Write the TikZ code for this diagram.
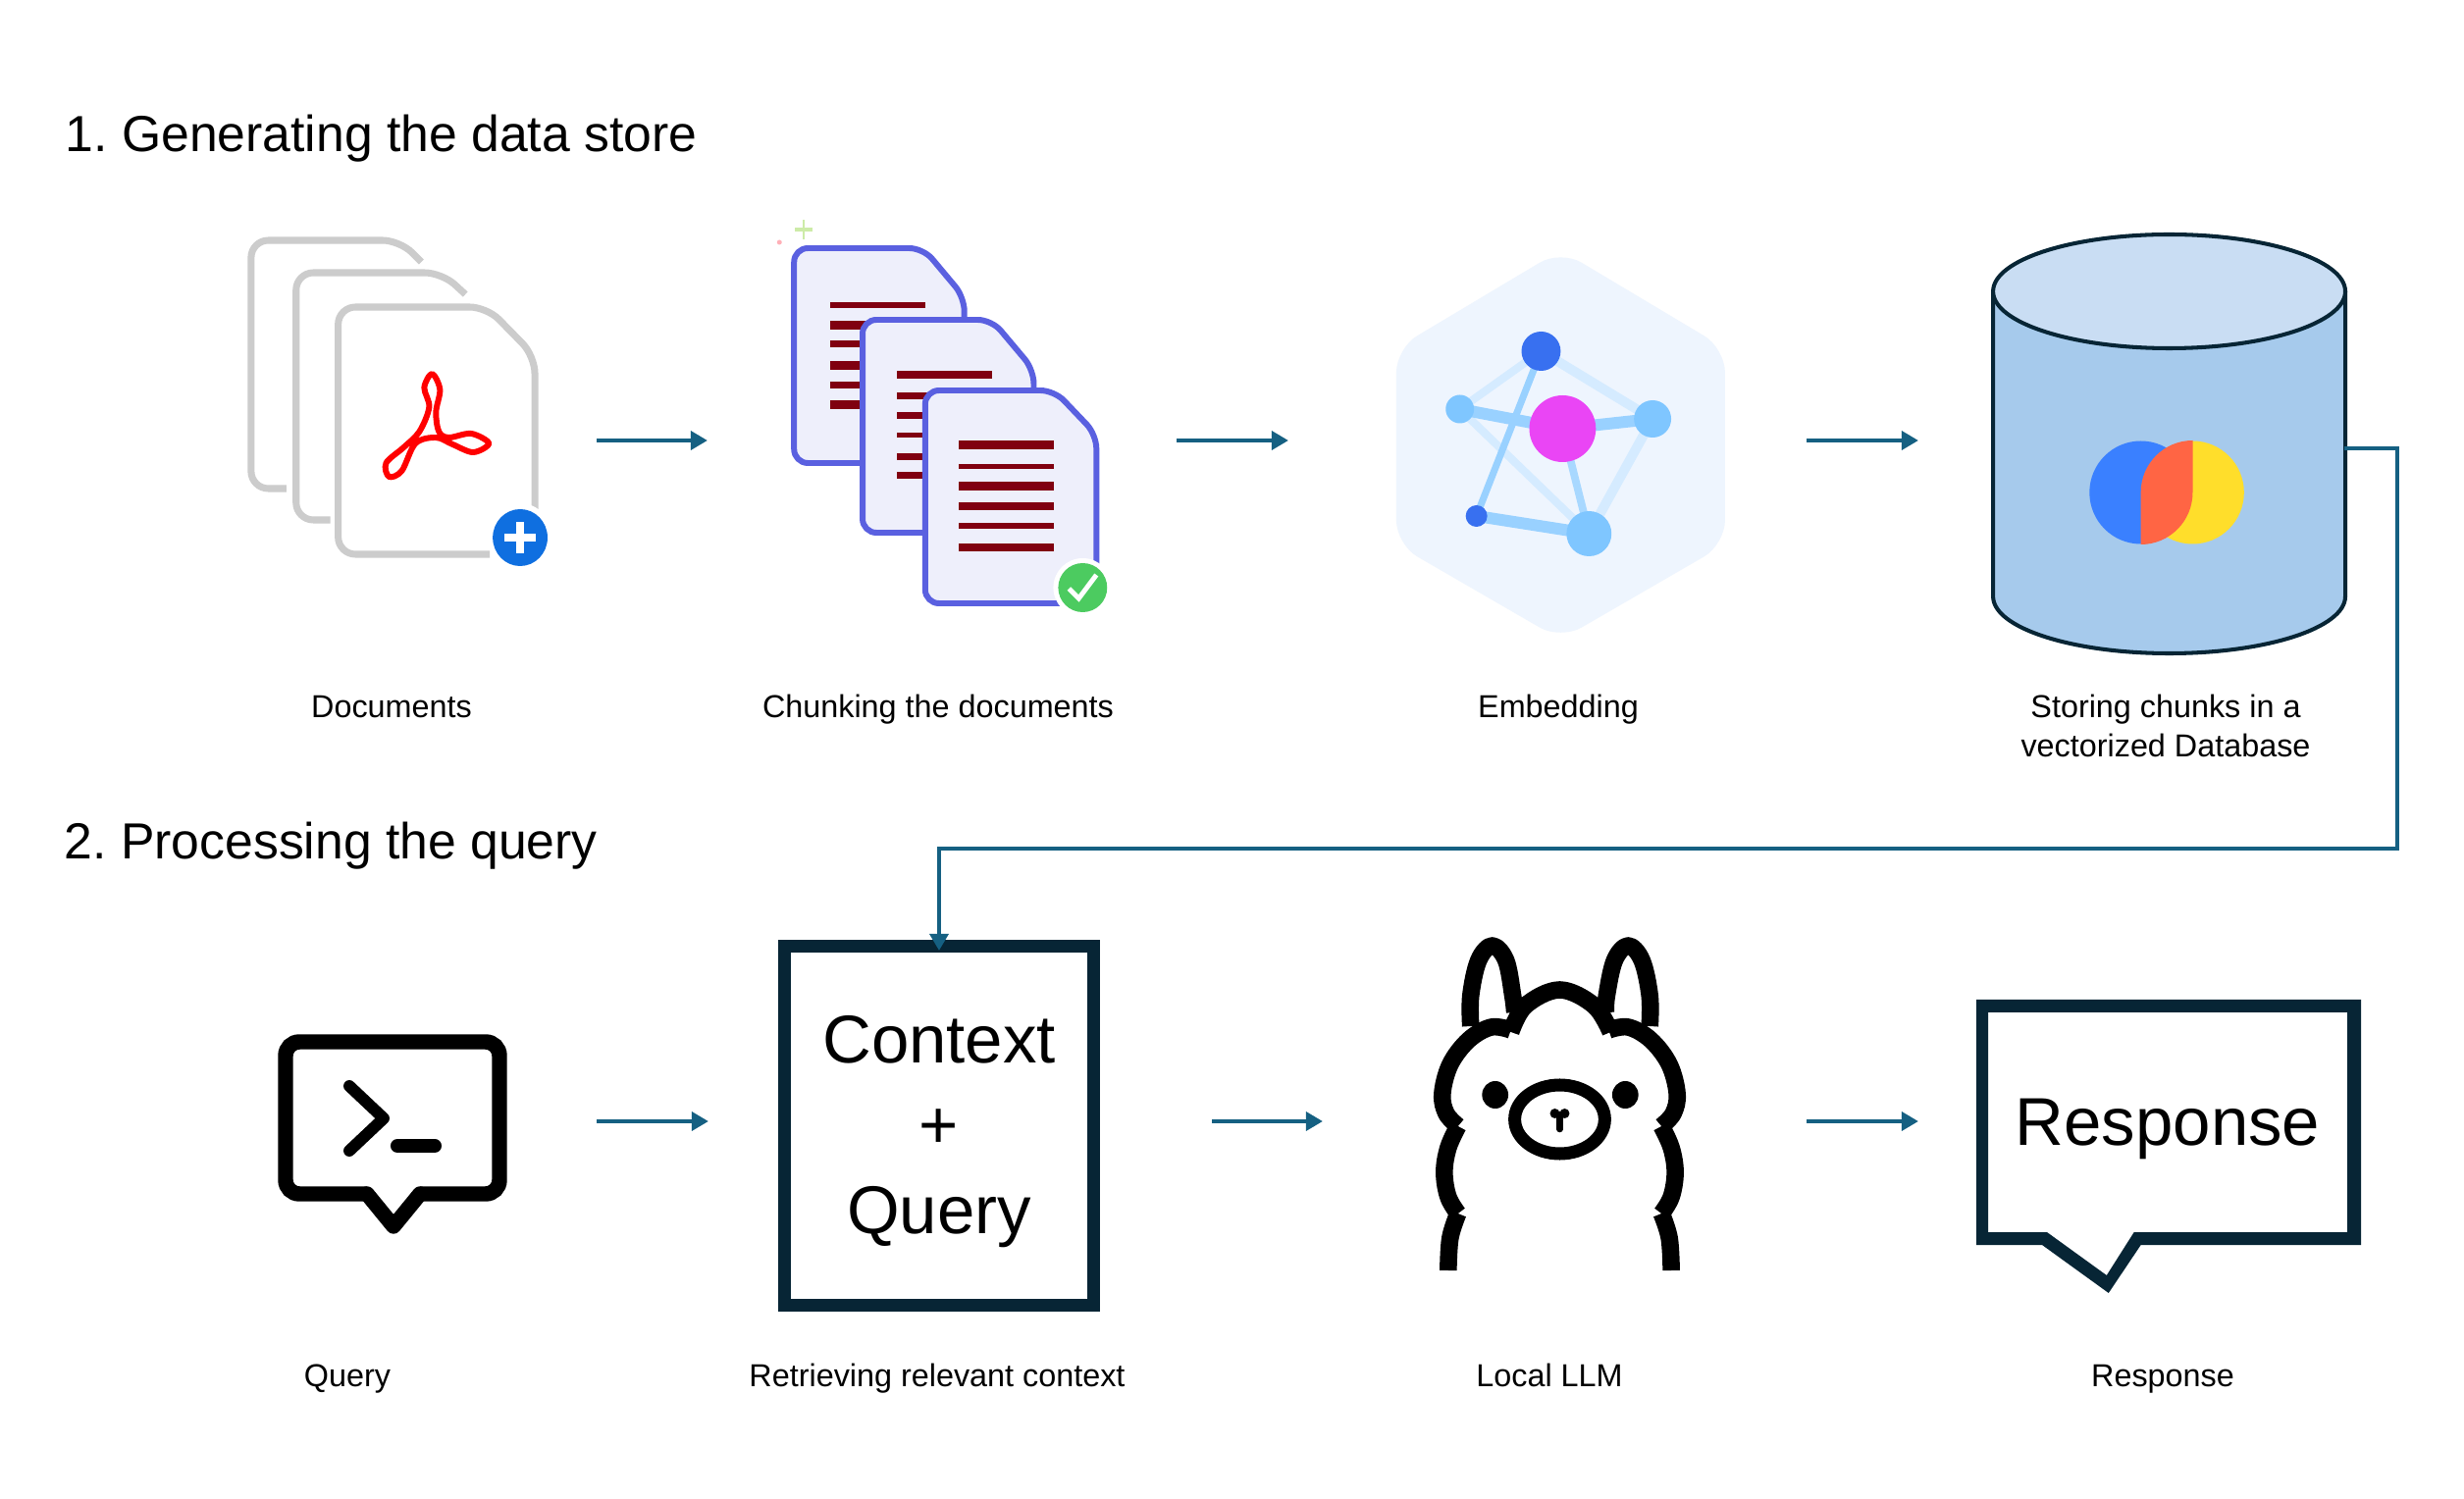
\documentclass[tikz,border=0pt]{standalone}
\usepackage{fontspec}
\setmainfont{Liberation Sans}
\frenchspacing
\usetikzlibrary{arrows.meta}
\definecolor{flowc}{HTML}{156082}
\definecolor{inkc}{HTML}{072535}
\definecolor{gpage}{HTML}{CCCCCC}
\definecolor{ppage}{HTML}{5A60E0}
\definecolor{pfill}{HTML}{EEEFFB}
\definecolor{rline}{HTML}{800010}
\definecolor{hexc}{HTML}{EEF5FE}
\definecolor{edgea}{HTML}{D5EBFF}
\definecolor{edgeb}{HTML}{99D1FF}
\definecolor{edgec}{HTML}{A8D8FF}
\definecolor{nlight}{HTML}{7FC6FF}
\definecolor{ndark}{HTML}{3870F0}
\definecolor{nmag}{HTML}{EA45F5}
\definecolor{dbbody}{HTML}{A6CAEC}
\definecolor{dbtop}{HTML}{C9DDF3}
\definecolor{plusc}{HTML}{0F6FE0}
\definecolor{okc}{HTML}{4CCB60}
\definecolor{logob}{HTML}{3A80FF}
\definecolor{logoy}{HTML}{FFDE2B}
\definecolor{logoo}{HTML}{FF6544}
\definecolor{sparkg}{HTML}{CDEBA8}
\definecolor{sparkp}{HTML}{FFB0B8}
\tikzset{
  flow/.style={draw=flowc,line width=1.4pt,-{Triangle[length=4.84pt,width=5.3pt,fill=flowc]}},
  gdoc/.style={draw=gpage,line width=2pt,rounded corners=5pt},
  pdoc/.style={draw=ppage,fill=pfill,line width=1.7pt,rounded corners=4pt},
  lbltxt/.style={font=\fontsize{9.2}{11.4}\selectfont,anchor=base,inner sep=0pt,text=black},
  headtxt/.style={font=\fontsize{14.7}{18}\selectfont,anchor=base west,inner sep=0pt,text=black},
  bigtxt/.style={font=\fontsize{19.6}{24.75}\selectfont,align=center,text=black},
  ela/.style={draw=edgea},
  elb/.style={draw=edgeb},
  llamaline/.style={draw=black,line width=5pt,line join=round},
  fitx/.style={shift={(#1,0)},xscale=0.997,shift={(-#1,0)}},
}
\begin{document}
\begin{tikzpicture}[x=0.01cm,y=-0.01cm]
\useasboundingbox (0,0) rectangle (2511,1528);
\fill[white] (0,0) rectangle (2511,1528);
% headings
\node[headtxt] (h1) at (66,155) {1. Generating the data store};
\node[headtxt] (h2) at (65,876) {2. Processing the query};
\begin{scope}[fitx=220]
% documents
\draw[gdoc] (292,498) -- (256,498) -- (256,245) -- (408,245) -- (430,267);
\draw[gdoc] (337,530) -- (302,530) -- (302,278) -- (451,278) -- (475,300);
\draw[gdoc,fill=white] (500,565) -- (345,565) -- (345,313) -- (497,313) -- (546,363) -- (546,520);
\draw[red,line width=1.7pt,line join=round]
  plot[smooth cycle,tension=0.55] coordinates {(441,381) (449,397) (445,420) (448,440) (458,446) (481,442) (499,452) (483,461) (462,453) (445,446) (424,452) (410,480) (397,486) (394,472) (412,456) (428,440) (438,415) (433,395)};
\fill[white] (531,548) ellipse [x radius=33,y radius=35];
\fill[plusc] (531,548) ellipse [x radius=28,y radius=29];
\fill[white] (527,532) rectangle (535,564);
\fill[white] (515,544) rectangle (547,552);
% chunks
\fill[sparkp] (796,247) circle (2.5);
\fill[sparkg] (820,224) rectangle (822,244);
\fill[sparkg] (812,232) rectangle (830,236);
\draw[pdoc] (811,472) -- (811,253) -- (943,253) -- (985,303) -- (985,472) -- cycle;
\foreach \y/\t in {311/5.5,332/9,351/7,373/9,393/7,413/9}{\fill[rline] (848,\y-\t/2) rectangle (945,\y+\t/2);}
\draw[pdoc] (881,543) -- (881,326) -- (1013,326) -- (1056,377) -- (1056,543) -- cycle;
\foreach \y/\t in {382/8,404/7,424/7,444/5,466/7,485/7}{\fill[rline] (916,\y-\t/2) rectangle (1013,\y+\t/2);}
\draw[pdoc] (945,615) -- (945,398) -- (1077,398) -- (1120,443) -- (1120,615) -- cycle;
\foreach \y/\t in {454/9,476/5,496/9,516/8,536/6,558/8}{\fill[rline] (979,\y-\t/2) rectangle (1077,\y+\t/2);}
\fill[white] (1106,599) circle (30);
\fill[okc] (1106,599) circle (25);
\draw[white,line width=1.4pt] (1092,600) -- (1102,610) -- (1120,586);
\end{scope}
\begin{scope}[fitx=1400]
% embedding
\fill[hexc,rounded corners=7pt] (1591,255) -- (1759,355) -- (1759,555) -- (1591,652) -- (1423,555) -- (1423,355) -- cycle;
\coordinate (na) at (1571,358); \coordinate (nb) at (1488,417); \coordinate (nc) at (1593,437);
\coordinate (nd) at (1685,427); \coordinate (ne) at (1505,526); \coordinate (nf) at (1620,544);
\draw[ela,line width=2.3pt] (na) -- (nb);
\draw[ela,line width=2.8pt] (na) -- (nd);
\draw[ela,line width=2.3pt] (nb) -- (nf);
\draw[ela,line width=2.8pt] (nd) -- (nf);
\draw[elb,line width=2pt] (na) -- (ne);
\draw[elb,line width=3.4pt] (nb) -- (nc);
\draw[elb,line width=3.4pt] (nc) -- (nd);
\draw[edgec,line width=2.2pt] (nc) -- (nf);
\draw[elb,line width=3.4pt] (ne) -- (nf);
\fill[ndark] (na) circle (20);
\fill[nlight] (nb) circle (14.5);
\fill[nmag] (nc) circle (34);
\fill[nlight] (nd) circle (19);
\fill[ndark] (ne) circle (11);
\fill[nlight] (nf) circle (23);
% database
\draw[inkc,fill=dbbody,line width=1.15pt] (2033,297) -- (2033,608) arc[start angle=180,end angle=0,x radius=180,y radius=58] -- (2393,297);
\draw[inkc,fill=dbtop,line width=1.15pt] (2213,297) ellipse [x radius=180,y radius=58];
\fill[logob] (2184,502) circle (52.5);
\fill[logoy] (2237,502) circle (52.5);
\fill[logoo] (2237,449.5) -- (2237,502) arc[start angle=0,end angle=90,radius=53] -- (2184,502) arc[start angle=180,end angle=270,radius=53] -- cycle;
\end{scope}
% labels top row
\node[lbltxt] (l1) at (399,732) {Documents};
\node[lbltxt] (l2) at (956,732) {Chunking the documents};
\node[lbltxt] (l3) at (1588,732) {Embedding};
\node[lbltxt] (l4a) at (2207,732) {Storing chunks in a};
\node[lbltxt] (l4b) at (2207,772) {vectorized Database};
% arrows top row
\coordinate (a1s) at (608,449); \coordinate (a1e) at (721,449);
\coordinate (a2s) at (1199,449); \coordinate (a2e) at (1313,449);
\coordinate (a3s) at (1841,449); \coordinate (a3e) at (1955,449);
\draw[flow] (a1s) -- (a1e);
\draw[flow] (a2s) -- (a2e);
\draw[flow] (a3s) -- (a3e);
% query bubble
\draw[black,line width=4.4pt,rounded corners=4pt]
  (374,1217) -- (291,1217) -- (291,1062) -- (509,1062) -- (509,1217) -- (428,1217);
\draw[black,line width=4.4pt,line join=round,line cap=round] (374,1217) -- (401,1250) -- (428,1217);
\draw[black,line width=3.4pt,line cap=round,line join=round] (356,1107) -- (391,1140) -- (356,1173);
\draw[black,line width=4pt,line cap=round] (405,1168) -- (443,1168);
% context box
\node[draw=inkc,line width=3.7pt,minimum width=89.6pt,minimum height=104pt,inner sep=0pt] (box) at (957,1147.5) {};
\node[bigtxt,inner sep=0pt] (boxtxt) at (957,1154) {Context\\+\\Query};
\coordinate (boxin) at (957,969);
\coordinate (dbport) at (2389,457);
\draw[flow] (dbport) -- (2443,457) -- (2443,865) -- (957,865) -- (boxin);
\begin{scope}[fitx=1420]
% llama
\draw[llamaline] plot[smooth,tension=0.6] coordinates {(1499,1046) (1499,1015) (1507,979) (1521,964) (1535,979) (1542,1015) (1544,1032)};
\draw[llamaline] plot[smooth,tension=0.6] coordinates {(1637,1032) (1638,1015) (1646,979) (1660,964) (1674,979) (1682,1015) (1682,1046)};
\draw[llamaline] plot[smooth,tension=0.6] coordinates {(1540,1052) (1555,1025) (1590,1009) (1625,1025) (1642,1052)};
\draw[llamaline] plot[smooth,tension=0.6] coordinates {(1540,1050) (1520,1047) (1497,1060) (1478,1085) (1470,1115) (1474,1135) (1486,1148)};
\draw[llamaline] plot[smooth,tension=0.6] coordinates {(1640,1050) (1660,1047) (1683,1060) (1702,1085) (1710,1115) (1706,1135) (1694,1148)};
\draw[llamaline] plot[smooth,tension=0.6] coordinates {(1486,1148) (1476,1170) (1472,1195) (1476,1220) (1486,1237)};
\draw[llamaline] plot[smooth,tension=0.6] coordinates {(1694,1148) (1704,1170) (1708,1195) (1704,1220) (1694,1237)};
\draw[llamaline,line cap=butt] plot[smooth,tension=0.6] coordinates {(1486,1237) (1478,1262) (1476,1295)};
\draw[llamaline,line cap=butt] plot[smooth,tension=0.6] coordinates {(1694,1237) (1702,1262) (1704,1295)};
\fill (1524,1116) ellipse [x radius=13.4,y radius=14];
\fill (1657,1116) ellipse [x radius=13.4,y radius=14];
\draw[black,line width=3.7pt] (1590,1141) ellipse [x radius=46,y radius=35];
\fill (1585,1135) circle (5);
\fill (1595,1135) circle (5);
\draw[black,line width=1.9pt,line cap=round] (1590,1136) -- (1590,1151);
% response bubble
\fill[inkc,even odd rule]
  (2016,1019) -- (2409,1019) -- (2409,1269) -- (2184,1269) -- (2151,1318) -- (2083,1269) -- (2016,1269) -- cycle
  (2028,1032) -- (2395,1032) -- (2395,1256) -- (2177,1256) -- (2149,1300) -- (2088,1256) -- (2028,1256) -- cycle;
\end{scope}
\node[bigtxt,anchor=base,inner sep=0pt] (resp) at (2209,1167) {Response};
% arrows bottom
\coordinate (b1s) at (608,1143); \coordinate (b1e) at (722,1143);
\coordinate (b2s) at (1235,1143); \coordinate (b2e) at (1348,1143);
\coordinate (b3s) at (1841,1143); \coordinate (b3e) at (1955,1143);
\draw[flow] (b1s) -- (b1e);
\draw[flow] (b2s) -- (b2e);
\draw[flow] (b3s) -- (b3e);
% labels bottom
\node[lbltxt] (m1) at (354,1413) {Query};
\node[lbltxt] (m2) at (955,1413) {Retrieving relevant context};
\node[lbltxt] (m3) at (1579,1413) {Local LLM};
\node[lbltxt] (m4) at (2204,1413) {Response};
\end{tikzpicture}
\end{document}
